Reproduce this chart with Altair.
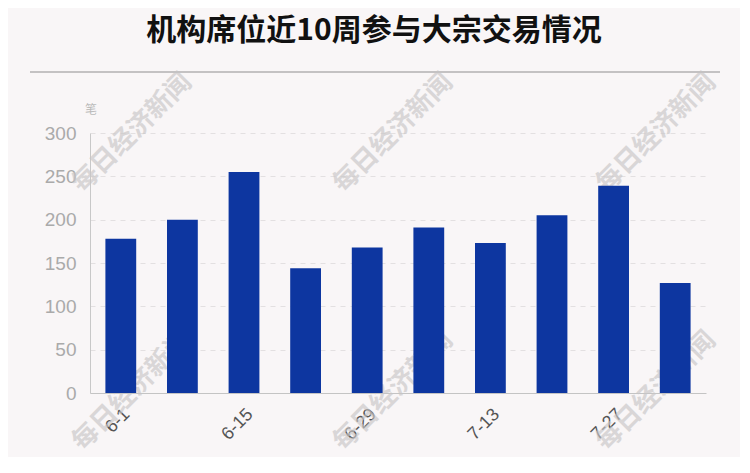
import altair as alt
import pandas as pd

weeks = ["6-1", "6-8", "6-15", "6-22", "6-29", "7-6", "7-13", "7-20", "7-27", "8-3"]
counts = [178, 200, 255, 144, 168, 191, 173, 205, 239, 127]
shown_labels = ["6-1", "6-15", "6-29", "7-13", "7-27"]
y_ticks = [0, 50, 100, 150, 200, 250, 300]
title_text = "机构席位近10周参与大宗交易情况"
unit_text = "笔"
watermark_text = "每日经济新闻"

W, H = 616, 260
df = pd.DataFrame({"week": weeks, "count": counts})
one = pd.DataFrame({"t": [0]})

# watermarks (behind everything)
wm_layers = []
for wx in (42, 303, 566):
    for wy in (0, 258):
        wm_layers.append(
            alt.Chart(one).mark_text(
                text=watermark_text, angle=315, fontSize=26, fontWeight="bold",
                font="Noto Sans CJK SC", color="#c8c6c7", opacity=0.65,
                align="center", baseline="middle",
            ).encode(x=alt.value(wx), y=alt.value(wy))
        )

bars = alt.Chart(df).mark_bar(color="#0d36a0").encode(
    x=alt.X(
        "week:N", sort=weeks,
        scale=alt.Scale(paddingInner=0.5, paddingOuter=0.25),
        axis=alt.Axis(
            values=shown_labels, title=None, labelAngle=-45, labelFontSize=18,
            labelColor="#555555", labelFont="Liberation Sans", domainColor="#c4c4c4",
            ticks=False, labelPadding=12, grid=False,
        ),
    ),
    y=alt.Y(
        "count:Q", scale=alt.Scale(domain=[0, 300]),
        axis=alt.Axis(
            values=y_ticks, title=None, labelFontSize=19, labelColor="#aaaaaa",
            labelFont="Liberation Sans", labelPadding=14, ticks=False,
            domainColor="#c8c8c8", gridColor="#e3e0e1", gridDash=[5, 5],
        ),
    ),
)

title = alt.Chart(one).mark_text(
    text=title_text, fontSize=30, fontWeight="bold", font="Noto Sans CJK SC",
    color="#111111", align="center", baseline="middle",
).encode(x=alt.value(284), y=alt.value(-102))

line = alt.Chart(one).mark_rule(color="#c4c2c3", strokeWidth=2).encode(
    x=alt.value(-60), x2=alt.value(630), y=alt.value(-61)
)

unit = alt.Chart(one).mark_text(
    text=unit_text, fontSize=12, color="#bbbbbb", font="Noto Sans CJK SC",
    align="center", baseline="middle",
).encode(x=alt.value(1), y=alt.value(-23))

chart = alt.layer(*wm_layers, bars, title, line, unit).properties(
    width=W, height=H,
    autosize=alt.AutoSizeParams(type="none"),
    padding={"left": 82, "top": 125, "right": 34, "bottom": 64},
    background="#f9f6f7",
).configure_view(stroke=None)

chart.save("out.html", embed_options={"renderer": "svg", "actions": False})
